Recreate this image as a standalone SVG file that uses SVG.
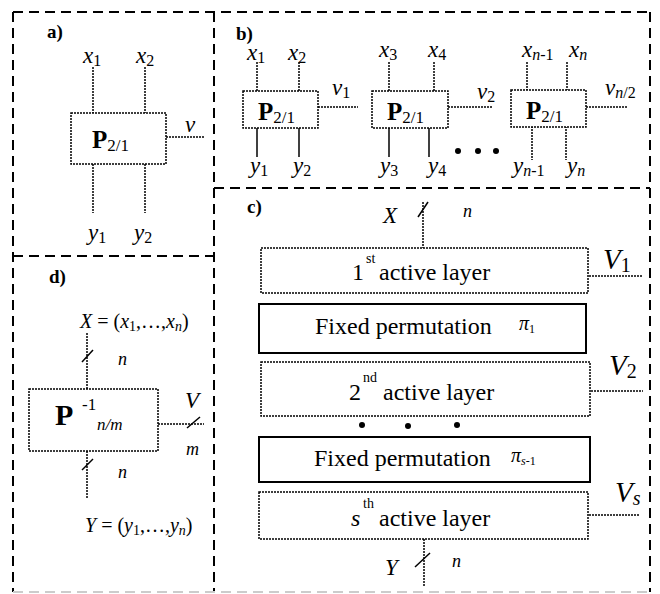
<svg xmlns="http://www.w3.org/2000/svg" width="660" height="594" viewBox="0 0 660 594">
<style>
text{font-family:"Liberation Serif","DejaVu Serif",serif;fill:#000}
.lbl{font-weight:bold;font-size:19px}
.v{font-style:italic;font-size:23px}
.sub{font-style:normal;font-size:16px}
.isub{font-style:italic;font-size:16px}
.bP{font-weight:bold;font-size:25px}
.t{font-size:24px}
.sup{font-size:14px}
.frame{fill:none;stroke:#000;stroke-width:2;stroke-dasharray:10 6}
.dot{fill:#fff;stroke:#000;stroke-width:1.5;stroke-dasharray:2 1}
.solid{fill:#fff;stroke:#000;stroke-width:2}
.dl{stroke:#000;stroke-width:1.5;stroke-dasharray:2 1;fill:none}
.sl{stroke:#000;stroke-width:1.5;fill:none}
</style>
<rect width="660" height="594" fill="#fff"/>
<g id="frames">
<line class="frame" x1="13" y1="12" x2="650" y2="12"/>
<line class="frame" x1="13" y1="12" x2="13" y2="592"/>
<line class="frame" x1="650" y1="12" x2="650" y2="592"/>
<line class="frame" x1="214" y1="12" x2="214" y2="592"/>
<line class="frame" x1="13" y1="256" x2="214" y2="256"/>
<line class="frame" x1="214" y1="188" x2="650" y2="188"/>
<line class="frame" x1="13" y1="592" x2="650" y2="592" style="stroke:#ccc"/>
</g>
<g id="connectors">
<line class="dl" x1="93" y1="67" x2="93" y2="113"/>
<line class="dl" x1="145" y1="67" x2="145" y2="113"/>
<line class="dl" x1="93" y1="164" x2="93" y2="213"/>
<line class="dl" x1="145" y1="164" x2="145" y2="213"/>
<line class="dl" x1="166" y1="137" x2="204" y2="137"/>
<line class="dl" x1="257" y1="62" x2="257" y2="91"/>
<line class="dl" x1="299" y1="62" x2="299" y2="91"/>
<line class="sl" x1="257" y1="125" x2="257" y2="157"/>
<line class="sl" x1="299" y1="125" x2="299" y2="157"/>
<line class="dl" x1="318" y1="107" x2="358" y2="107"/>
<line class="dl" x1="389" y1="62" x2="389" y2="91"/>
<line class="dl" x1="434" y1="62" x2="434" y2="91"/>
<line class="sl" x1="389" y1="125" x2="389" y2="157"/>
<line class="sl" x1="429" y1="125" x2="429" y2="157"/>
<line class="dl" x1="448" y1="107" x2="492" y2="107"/>
<line class="dl" x1="527" y1="62" x2="527" y2="90"/>
<line class="dl" x1="567" y1="62" x2="567" y2="90"/>
<line class="dl" x1="532" y1="126" x2="532" y2="160"/>
<line class="dl" x1="566" y1="126" x2="566" y2="160"/>
<line class="dl" x1="586" y1="107" x2="628" y2="107"/>
<line class="dl" x1="423" y1="202" x2="423" y2="248"/>
<line class="sl" x1="418" y1="217" x2="428" y2="202"/>
<line class="dl" x1="589" y1="276" x2="642" y2="276"/>
<line class="dl" x1="591" y1="391" x2="643" y2="391"/>
<line class="dl" x1="589" y1="515" x2="640" y2="515"/>
<line class="dl" x1="424" y1="539" x2="424" y2="587"/>
<line class="sl" x1="415" y1="567" x2="430" y2="553"/>
<line class="dl" x1="87" y1="333" x2="87" y2="389"/>
<line class="sl" x1="82" y1="362" x2="93" y2="350"/>
<line class="dl" x1="158" y1="424" x2="204" y2="424"/>
<line class="sl" x1="187" y1="428" x2="200" y2="417"/>
<line class="dl" x1="87" y1="451" x2="87" y2="498"/>
<line class="sl" x1="82" y1="470" x2="93" y2="459"/>
</g>
<g id="panel-a">
<text class="lbl" x="47" y="38">a)</text>
<text class="v" x="83" y="63">x<tspan class="sub" dy="3">1</tspan></text>
<text class="v" x="136" y="63">x<tspan class="sub" dy="3">2</tspan></text>
<text class="v" x="88" y="240">y<tspan class="sub" dy="3">1</tspan></text>
<text class="v" x="134" y="240">y<tspan class="sub" dy="3">2</tspan></text>
<text class="v" x="185" y="132">v</text>
</g>
<g id="node-a-P">
<rect class="dot" x="71" y="113" width="95" height="51"/>
<text class="bP" x="92" y="148">P<tspan style="font-weight:normal;font-size:17px" dy="3">2/1</tspan></text>
</g>
<g id="panel-b">
<text class="lbl" x="236" y="40">b)</text>
<text class="v" x="247" y="60">x<tspan class="sub" dy="3">1</tspan></text>
<text class="v" x="288" y="60">x<tspan class="sub" dy="3">2</tspan></text>
<text class="v" x="379" y="57">x<tspan class="sub" dy="3">3</tspan></text>
<text class="v" x="428" y="57">x<tspan class="sub" dy="3">4</tspan></text>
<text class="v" x="522" y="57">x<tspan class="isub" dy="3">n</tspan><tspan class="sub">-1</tspan></text>
<text class="v" x="569" y="57">x<tspan class="isub" dy="3">n</tspan></text>
<text class="v" x="332" y="95">v<tspan class="sub" dy="3">1</tspan></text>
<text class="v" x="477" y="99">v<tspan class="sub" dy="3">2</tspan></text>
<text class="v" x="605" y="95">v<tspan class="isub" dy="3">n</tspan><tspan class="sub">/2</tspan></text>
<text class="v" x="250" y="173">y<tspan class="sub" dy="3">1</tspan></text>
<text class="v" x="293" y="173">y<tspan class="sub" dy="3">2</tspan></text>
<text class="v" x="380" y="173">y<tspan class="sub" dy="3">3</tspan></text>
<text class="v" x="428" y="173">y<tspan class="sub" dy="3">4</tspan></text>
<text class="v" x="513" y="173">y<tspan class="isub" dy="3">n</tspan><tspan class="sub">-1</tspan></text>
<text class="v" x="567" y="173">y<tspan class="isub" dy="3">n</tspan></text>
<circle cx="458" cy="151" r="3"/>
<circle cx="478" cy="151" r="3"/>
<circle cx="496" cy="151" r="3"/>
</g>
<g id="node-b-P1">
<rect class="dot" x="243" y="91" width="75" height="37"/>
<text class="bP" x="258" y="120">P<tspan style="font-weight:normal;font-size:17px" dy="3">2/1</tspan></text>
</g>
<g id="node-b-P2">
<rect class="dot" x="372" y="91" width="76" height="37"/>
<text class="bP" x="387" y="120">P<tspan style="font-weight:normal;font-size:17px" dy="3">2/1</tspan></text>
</g>
<g id="node-b-P3">
<rect class="dot" x="511" y="90" width="75" height="37"/>
<text class="bP" x="526" y="119">P<tspan style="font-weight:normal;font-size:17px" dy="3">2/1</tspan></text>
</g>
<g id="panel-c">
<text class="lbl" x="247" y="213">c)</text>
<text class="v" x="383" y="223">X</text>
<text class="v" x="463" y="217" style="font-size:18px">n</text>
<text class="v" x="603" y="269" style="font-size:29px">V<tspan class="sub" style="font-size:20px" dy="3">1</tspan></text>
<text class="v" x="609" y="375" style="font-size:29px">V<tspan class="sub" style="font-size:20px" dy="3">2</tspan></text>
<text class="v" x="615" y="502" style="font-size:29px">V<tspan class="isub" style="font-size:20px" dy="3">s</tspan></text>
<circle cx="362" cy="425" r="3"/>
<circle cx="408" cy="426" r="3"/>
<circle cx="457" cy="425" r="3"/>
<text class="v" x="385" y="575">Y</text>
<text class="v" x="452" y="567" style="font-size:18px">n</text>
</g>
<g id="node-c-layer1">
<rect class="dot" x="261" y="248" width="327" height="45"/>
<text class="t" x="352" y="280">1</text>
<text class="sup" x="366" y="263">st</text>
<text class="t" x="379" y="280">active layer</text>
</g>
<g id="node-c-perm1">
<rect class="solid" x="259" y="304" width="327" height="49"/>
<text class="t" x="315" y="334">Fixed permutation</text>
<text class="v" x="519" y="330" style="font-size:20px">π<tspan class="sub" style="font-size:12px" dy="3">1</tspan></text>
</g>
<g id="node-c-layer2">
<rect class="dot" x="261" y="362" width="329" height="54"/>
<text class="t" x="349" y="400">2</text>
<text class="sup" x="363" y="382">nd</text>
<text class="t" x="383" y="400">active layer</text>
</g>
<g id="node-c-perm2">
<rect class="solid" x="259" y="437" width="331" height="45"/>
<text class="t" x="314" y="466">Fixed permutation</text>
<text class="v" x="511" y="462" style="font-size:20px">π<tspan class="isub" style="font-size:12px" dy="3">s</tspan><tspan class="sub" style="font-size:12px">-1</tspan></text>
</g>
<g id="node-c-layerS">
<rect class="dot" x="259" y="492" width="329" height="47"/>
<text class="t" x="351" y="526" style="font-style:italic">s</text>
<text class="sup" x="363" y="508">th</text>
<text class="t" x="379" y="526">active layer</text>
</g>
<g id="panel-d">
<text class="lbl" x="49" y="283">d)</text>
<text class="v" x="80" y="328" style="font-size:20px">X<tspan style="font-style:normal"> = (</tspan>x<tspan class="sub" style="font-size:14px" dy="3">1</tspan><tspan style="font-style:normal" dy="-3">,…,</tspan>x<tspan class="isub" style="font-size:14px" dy="3">n</tspan><tspan style="font-style:normal" dy="-3">)</tspan></text>
<text class="v" x="118" y="365" style="font-size:18px">n</text>
<text class="v" x="185" y="408">V</text>
<text class="v" x="186" y="455" style="font-size:18px">m</text>
<text class="v" x="118" y="478" style="font-size:18px">n</text>
<text class="v" x="85" y="532" style="font-size:20px">Y<tspan style="font-style:normal"> = (</tspan>y<tspan class="sub" style="font-size:14px" dy="3">1</tspan><tspan style="font-style:normal" dy="-3">,…,</tspan>y<tspan class="isub" style="font-size:14px" dy="3">n</tspan><tspan style="font-style:normal" dy="-3">)</tspan></text>
</g>
<g id="node-d-P">
<rect class="dot" x="29" y="389" width="129" height="62"/>
<text class="bP" x="55" y="425" style="font-size:30px">P</text>
<text x="82" y="410" style="font-size:17px">-1</text>
<text class="v" x="97" y="430" style="font-size:17px">n/m</text>
</g>
</svg>
